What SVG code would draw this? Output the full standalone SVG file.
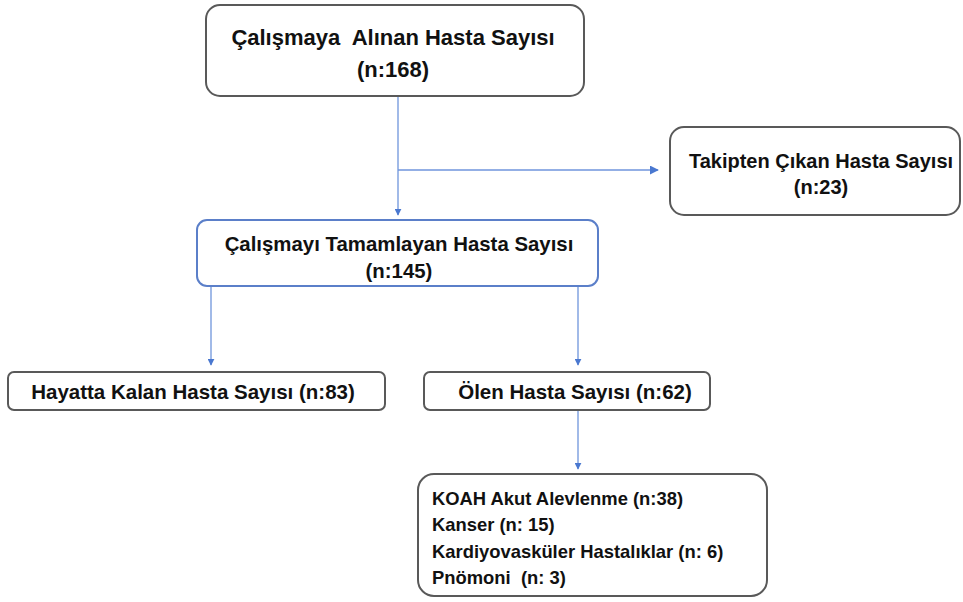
<svg xmlns="http://www.w3.org/2000/svg" width="963" height="602" viewBox="0 0 963 602">
<defs>
<style>
.box{fill:#fff;stroke:#595959;stroke-width:2}
.bbox{fill:#fff;stroke:#5b7fc9;stroke-width:2}
.t{font-family:"Liberation Sans",Arial,sans-serif;font-weight:bold;fill:#111;text-anchor:middle}
.l{font-family:"Liberation Sans",Arial,sans-serif;font-weight:bold;fill:#111}
.c{stroke:#6f95dc;stroke-width:1.3;fill:none;marker-end:url(#a)}
</style>
<marker id="a" viewBox="0 0 10 10" refX="9" refY="5" markerWidth="7" markerHeight="7" markerUnits="userSpaceOnUse" orient="auto">
<path d="M0,0L10,5L0,10z" fill="#4a78d0"/>
</marker>
<marker id="b" viewBox="0 0 10 10" refX="9" refY="5" markerWidth="9" markerHeight="9" markerUnits="userSpaceOnUse" orient="auto">
<path d="M0,0L10,5L0,10z" fill="#4a78d0"/>
</marker>
</defs>
<g id="connectors">
<path class="c" d="M398,96V215"/>
<path class="c" d="M398,170H658" style="marker-end:url(#b)"/>
<path class="c" d="M211,286V365"/>
<path class="c" d="M578,286V365"/>
<path class="c" d="M578,410V469"/>
</g>
<g id="n1">
<rect class="box" x="206" y="5" width="378" height="91" rx="14"/>
<text class="t" x="393" y="45" font-size="22" xml:space="preserve">Çalışmaya  Alınan Hasta Sayısı</text>
<text class="t" x="393" y="77" font-size="22">(n:168)</text>
</g>
<g id="n2">
<rect class="box" x="670" y="127" width="290" height="88" rx="14"/>
<text class="t" x="821" y="168" font-size="20">Takipten Çıkan Hasta Sayısı</text>
<text class="t" x="821" y="194" font-size="20">(n:23)</text>
</g>
<g id="n3">
<rect class="bbox" x="197" y="220" width="401" height="66" rx="10"/>
<text class="t" x="399" y="251" font-size="20.4">Çalışmayı Tamamlayan Hasta Sayısı</text>
<text class="t" x="399" y="278" font-size="20.4">(n:145)</text>
</g>
<g id="n4">
<rect class="box" x="8" y="372" width="377" height="38" rx="6"/>
<text class="t" x="193" y="399" font-size="20.5">Hayatta Kalan Hasta Sayısı (n:83)</text>
</g>
<g id="n5">
<rect class="box" x="424" y="372" width="286" height="38" rx="6"/>
<text class="t" x="575" y="399" font-size="20.5">Ölen Hasta Sayısı (n:62)</text>
</g>
<g id="n6">
<rect class="box" x="418" y="474" width="349" height="122" rx="16"/>
<text class="l" x="432" y="505" font-size="18.4">KOAH Akut Alevlenme (n:38)</text>
<text class="l" x="432" y="531" font-size="18.4">Kanser (n: 15)</text>
<text class="l" x="432" y="558" font-size="18.4">Kardiyovasküler Hastalıklar (n: 6)</text>
<text class="l" x="432" y="584" font-size="18.4" xml:space="preserve">Pnömoni  (n: 3)</text>
</g>
</svg>
